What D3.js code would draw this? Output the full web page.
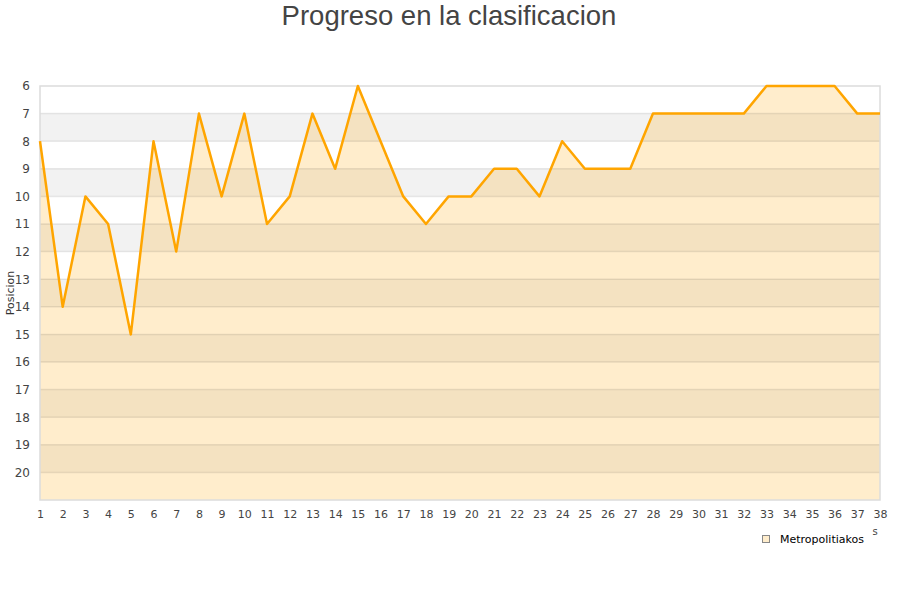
<!DOCTYPE html>
<html><head><meta charset="utf-8">
<script src="https://cdn.jsdelivr.net/npm/d3@7"></script>
<style>body{margin:0;background:#fff}</style>
</head><body>
<svg id="c" width="900" height="600"></svg>
<script>
const title = "Progreso en la clasificacion";
const yTitle = "Posicion";
const seriesName = "Metropolitiakos";
const rounds = d3.range(1, 39);
const positions = [8,14,10,11,15,8,12,7,10,7,11,10,7,9,6,8,10,11,10,10,9,9,10,8,9,9,9,7,7,7,7,7,6,6,6,6,7,7];
const yTicks = d3.range(6, 21);

const svg = d3.select("#c");
const L = 40, R = 880, T = 86, B = 500;
const x = d3.scaleLinear().domain([1, 38]).range([L, R]);
const y = d3.scaleLinear().domain([6, 21]).range([T, B]);

for (let v = 6; v < 21; v++) {
  svg.append("rect").attr("x", L).attr("y", y(v)).attr("width", R - L).attr("height", y(v + 1) - y(v))
    .attr("fill", (v % 2 === 1) ? "#f2f2f2" : "#ffffff");
}
const data = rounds.map((r, i) => ({r, p: positions[i]}));
svg.append("path").datum(data)
  .attr("d", d3.area().x(d => x(d.r)).y0(B).y1(d => y(d.p)))
  .attr("fill", "#ffa500").attr("fill-opacity", 0.2);
svg.append("g").selectAll("line").data(yTicks.slice(1)).join("line")
  .attr("x1", L).attr("x2", R).attr("y1", d => y(d)).attr("y2", d => y(d))
  .attr("stroke", "#000").attr("stroke-opacity", 0.09).attr("stroke-width", 1.5);
svg.append("rect").attr("x", L).attr("y", T).attr("width", R - L).attr("height", B - T)
  .attr("fill", "none").attr("stroke", "#dcdcdc").attr("stroke-width", 1.5);
svg.append("path").datum(data)
  .attr("d", d3.line().x(d => x(d.r)).y(d => y(d.p)))
  .attr("fill", "none").attr("stroke", "#ffa500").attr("stroke-width", 2.5).attr("stroke-linejoin", "round");

const yAxis = svg.append("g").attr("transform", `translate(${L},0)`)
  .call(d3.axisLeft(y).tickValues(yTicks).tickSize(0).tickPadding(10).tickFormat(d3.format("d")));
yAxis.select(".domain").remove();
yAxis.selectAll("text").attr("font-family", "DejaVu Sans").attr("font-size", 12).attr("fill", "#444");

const xAxis = svg.append("g").attr("transform", `translate(0,${B})`)
  .call(d3.axisBottom(x).tickValues(rounds).tickSize(0).tickPadding(10).tickFormat(d3.format("d")));
xAxis.select(".domain").remove();
xAxis.selectAll("text").attr("font-family", "DejaVu Sans").attr("font-size", 11).attr("fill", "#444");

svg.append("text").attr("x", 449).attr("y", 25).attr("text-anchor", "middle")
  .attr("font-family", "Liberation Sans, Arial").attr("font-size", 27.5).attr("fill", "#444").text(title);
svg.append("text").attr("transform", "translate(14,293) rotate(-90)").attr("text-anchor", "middle")
  .attr("font-family", "DejaVu Sans").attr("font-size", 11).attr("fill", "#333").text(yTitle);
svg.append("text").attr("x", 875).attr("y", 535).attr("text-anchor", "middle")
  .attr("font-family", "DejaVu Sans").attr("font-size", 10).attr("fill", "#444").text("s");

svg.append("rect").attr("x", 762.5).attr("y", 535.5).attr("width", 7).attr("height", 7)
  .attr("fill", "#ffedcc").attr("stroke", "#888").attr("stroke-width", 1);
svg.append("text").attr("x", 780).attr("y", 543).attr("font-family", "DejaVu Sans").attr("font-size", 11)
  .attr("fill", "#000").text(seriesName);
</script>
</body></html>
